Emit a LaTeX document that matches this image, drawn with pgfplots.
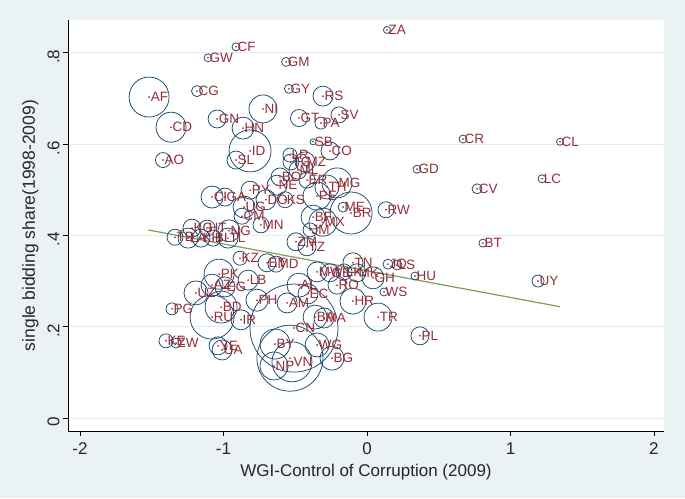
\documentclass[border=0pt]{standalone}
\usepackage{pgfplots}
\pgfplotsset{compat=1.18}
\usepackage{pgfplotstable}
\usepackage{fontspec}
\setmainfont{Liberation Sans}
\definecolor{bgc}{RGB}{234,242,243}
\definecolor{navyc}{RGB}{26,71,111}
\definecolor{maroonc}{RGB}{150,45,55}
\definecolor{fitc}{RGB}{125,158,88}
\definecolor{gridc}{RGB}{225,237,241}
\pgfplotstableread{
x y r lab
0.139 0.850 3.5 ZA
-0.913 0.813 4 CF
-1.108 0.789 4 GW
-0.564 0.780 4.5 GM
-1.185 0.716 5.5 CG
-0.544 0.721 4.5 GY
-1.519 0.703 20 AF
-0.307 0.705 10 RS
-0.725 0.677 14 NI
-0.195 0.664 8 SV
-0.474 0.657 8.5 GT
-0.321 0.646 6 PA
-1.045 0.655 9 GN
-1.366 0.637 15 CD
-0.864 0.635 11 HN
0.669 0.611 4 CR
1.345 0.605 3.5 CL
-0.376 0.605 3 SB
-0.815 0.585 21 ID
-0.258 0.585 9 CO
-0.537 0.576 7 LR
-0.913 0.565 9 SL
-1.422 0.565 7.5 AO
0.348 0.545 4 GD
1.220 0.524 4 LC
-0.530 0.561 8 TG
-0.432 0.561 10 MZ
-0.481 0.543 9 ML
-0.606 0.528 9 BO
-0.627 0.510 10 NE
-0.418 0.521 8 ER
-0.209 0.515 15 MG
-0.279 0.506 12 TH
0.767 0.502 5 CV
-0.348 0.486 14 PE
-0.815 0.499 9 PY
-0.704 0.478 10 DO
-0.571 0.478 8 KS
-1.080 0.484 11 CI
-0.990 0.484 9 GA
-0.857 0.462 11 UG
-0.167 0.462 5 ME
0.132 0.456 8 RW
-0.111 0.449 21 BR
-0.376 0.440 12 BF
-0.307 0.429 14 MX
-0.871 0.442 8 CM
-0.739 0.423 8 MN
-1.220 0.416 9 KG
-1.115 0.416 8 HT
-0.962 0.410 11 NG
-0.397 0.412 7 JM
-1.338 0.396 8 TD
-1.247 0.394 10 LA
-1.157 0.394 9 KH
-1.073 0.394 8 BI
-0.969 0.394 10 TL
-0.495 0.386 9 ZM
-0.418 0.375 9 TZ
0.808 0.383 4 BT
-0.885 0.350 7 KZ
-0.697 0.340 9 ET
-0.634 0.337 8 MD
-0.098 0.340 10 TN
0.146 0.337 5 JO
0.209 0.335 5 LS
-0.348 0.320 10 MW
-0.258 0.318 9 GE
-0.160 0.320 8 LK
-0.070 0.318 9 MK
-1.031 0.315 15 PK
0.334 0.311 4 HU
0.042 0.307 11 GH
-0.829 0.302 10 LB
1.192 0.300 6 UY
-1.080 0.291 11 AZ
-0.990 0.287 10 EG
-0.474 0.291 12 AL
-0.209 0.291 9 RO
0.118 0.276 4 WS
-1.192 0.274 12 UZ
-0.411 0.272 10 EC
-0.767 0.258 11 PH
-0.098 0.256 13 HR
-0.557 0.252 10 AM
-1.017 0.243 16 BD
-1.359 0.239 6 PG
-1.080 0.221 22 RU
-0.362 0.221 12 BA
-0.300 0.219 10 MA
0.077 0.221 14 TR
-0.878 0.215 10 IR
-0.509 0.197 44 CN
0.369 0.180 9 PL
-1.401 0.169 7 KE
-1.331 0.164 5 ZW
-0.641 0.162 15 BY
-0.348 0.160 12 WG
-1.038 0.158 9 YE
-1.010 0.149 10 UA
-0.244 0.131 12 BG
-0.523 0.123 20 VN
-0.648 0.114 14 NP
-0.537 0.131 33 {}
}\data
\begin{document}
\begin{tikzpicture}
\useasboundingbox (0,0) rectangle (685pt,498pt);
\fill[bgc] (0,0) rectangle (685pt,498pt);
\begin{axis}[
  at={(68pt,67pt)}, anchor=south west,
  scale only axis, width=596pt, height=411pt,
  xmin=-2.084, xmax=2.070, ymin=-0.0285, ymax=0.8718,
  axis x line*=bottom, axis y line*=left,
  axis line style={-, black, line width=0.8pt},
  axis background/.style={fill=white},
  xtick={-2,-1,0,1,2}, xticklabels={-2,-1,0,1,2},
  ytick={0,0.2,0.4,0.6,0.8}, yticklabels={0,.2,.4,.6,.8},
  yticklabel style={rotate=90, xshift=-4pt},
  xticklabel style={yshift=-3pt},
  tick align=outside, major tick length=5pt,
  tick style={black, line width=0.8pt},
  ymajorgrids, grid style={gridc, line width=0.8pt},
  /pgf/number format/assume math mode=true,
  ticklabel style={font=\fontsize{17}{20}\selectfont, text=black!85},
  xlabel style={font=\fontsize{17}{20}\selectfont, text=black!85, yshift=-3pt},
  ylabel style={font=\fontsize{17.5}{20}\selectfont, text=black!85, yshift=2pt},
  xlabel={WGI-Control of Corruption (2009)},
  ylabel={single bidding share(1998-2009)},
  clip=false,
]
\addplot[scatter, only marks, mark=o, line width=0.75pt,
  scatter/use mapped color={draw=navyc},
  visualization depends on={\thisrow{r}\as\perpointmarksize},
  scatter/@pre marker code/.append style={/tikz/mark size=\perpointmarksize pt}]
  table[x=x,y=y] {\data};
\addplot[only marks, mark=*, mark size=0.6pt, color=maroonc,
  point meta=explicit symbolic,
  nodes near coords,
  nodes near coords style={anchor=west, inner sep=0pt, xshift=1.5pt, text=maroonc, font=\fontsize{13.5}{15}\selectfont}]
  table[x=x,y=y,meta=lab] {\data};
\addplot[fitc, line width=1.2pt] coordinates {(-1.524,0.4118) (1.345,0.2438)};
\end{axis}
\end{tikzpicture}
\end{document}
